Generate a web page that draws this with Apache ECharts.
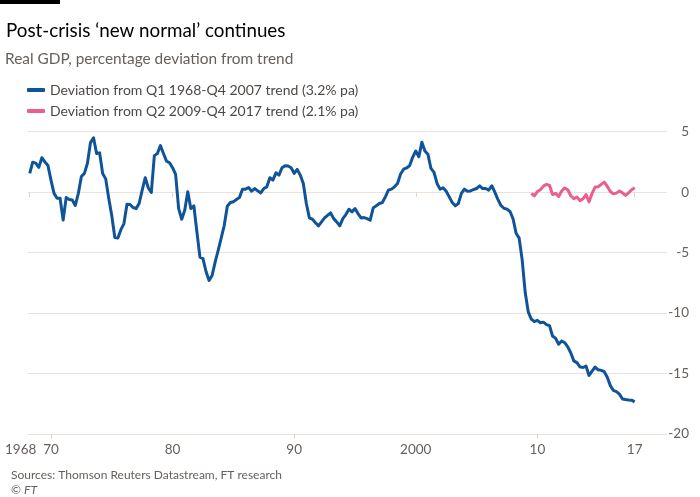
<!DOCTYPE html>
<html>
<head>
<meta charset="utf-8">
<script src="https://cdn.jsdelivr.net/npm/echarts@6/dist/echarts.min.js"></script>
<style>
html,body{margin:0;padding:0;background:#fff;}
#chart{width:700px;height:497px;}
</style>
</head>
<body>
<div id="chart"></div>
<script>
// First quarter of each series (year, quarter)
const blueStart = [1968, 1];
const pinkStart = [2009, 2];

// Deviation from Q1 1968-Q4 2007 trend (3.2% pa), quarterly from 1968 Q1
const blueValues = [
  1.55, 2.48, 2.4, 2.05,
  2.85, 2.5, 2.2, 1.0,
  -0.1, -0.5, -0.5, -2.3,
  -0.45, -0.6, -0.65, -1.1,
  -0.1, 1.3, 1.55, 2.4,
  4.1, 4.5, 3.2, 3.25,
  1.55, 1.1, -0.5, -1.95,
  -3.75, -3.8, -3.1, -2.6,
  -1.0, -1.02, -1.27, -1.36,
  -0.94, 0.17, 1.19, 0.36,
  -0.03, 3.02, 3.2, 3.85,
  3.2, 2.57, 2.43, 2.02,
  1.47, -1.36, -2.24, -1.49,
  0.03, -1.36, -1.13, -3.29,
  -5.37, -5.5, -6.56, -7.3,
  -6.89, -5.78, -4.81, -3.79,
  -2.74, -1.16, -0.86, -0.8,
  -0.61, -0.45, 0.25, 0.25,
  0.39, 0.08, 0.3, 0.11,
  -0.06, 0.3, 0.44, 1.19,
  1.0, 1.6, 1.41, 2.02,
  2.19, 2.16, 2.02, 1.55,
  1.88, 1.41, 0.72, -0.94,
  -2.13, -2.24, -2.52, -2.79,
  -2.46, -2.13, -1.91, -1.72,
  -2.19, -2.46, -2.79, -2.19,
  -1.85, -1.41, -1.63, -1.36,
  -1.77, -2.13, -2.1, -2.19,
  -2.32, -1.3, -1.13, -0.94,
  -0.86, -0.39, 0.17, 0.25,
  0.44, 0.72, 1.5, 1.9,
  2.0, 2.2, 2.9, 3.4,
  2.93, 4.12, 3.4, 3.13,
  1.96, 1.63, 0.72, 0.25,
  0.36, 0.08, -0.39, -0.86,
  -1.13, -0.94, -0.1, 0.25,
  0.08, 0.1, 0.22, 0.3,
  0.53, 0.3, 0.3, 0.17,
  0.53, 0.0, -0.6, -1.1,
  -1.33, -1.4, -1.6, -2.2,
  -3.4, -3.8, -5.6, -8.3,
  -9.9, -10.5, -10.7, -10.6,
  -10.8, -10.75, -10.95, -11.04,
  -11.9, -12.09, -12.58, -12.31,
  -12.45, -12.8, -13.3, -13.95,
  -14.1, -14.45, -14.5, -14.38,
  -15.16, -14.8, -14.46, -14.69,
  -14.74, -14.85, -15.3, -16.0,
  -16.4, -16.5, -16.7, -17.1,
  -17.15, -17.18, -17.2, -17.34
];

// Deviation from Q2 2009-Q4 2017 trend (2.1% pa), quarterly from 2009 Q2
const pinkValues = [
  -0.1, -0.3, 0.05,
  0.2, 0.5, 0.65, 0.55,
  -0.2, -0.1, -0.36, 0.1,
  0.35, 0.2, -0.3, -0.55,
  -0.4, -0.7, -0.55, -0.2,
  -0.8, -0.1, 0.42, 0.45,
  0.64, 0.83, 0.47, 0.05,
  -0.14, -0.08, 0.09, -0.05,
  -0.27, -0.05, 0.2, 0.36
];

// x-axis tick positions (end of quarter) and labels
const xTickValues = [1968.25, 1970, 1980, 1990, 2000, 2010, 2018];
const xTickLabels = ['1968', '70', '80', '90', '2000', '10', '17'];
const yTicks = [5, 0, -5, -10, -15, -20];

const legendNames = [
  'Deviation from Q1 1968-Q4 2007 trend (3.2% pa)',
  'Deviation from Q2 2009-Q4 2017 trend (2.1% pa)'
];

function toPoints(start, values) {
  // each quarter plotted at its end: year + quarter/4
  return values.map(function (v, i) {
    const q = start[1] - 1 + i;
    return [start[0] + (q + 1) / 4, v];
  });
}

const chart = echarts.init(document.getElementById('chart'), null, {renderer: 'canvas'});
const FONT = 'Lato, "Noto Sans", sans-serif';

// split ticks over two identical axes so the close "1968" and "70" labels both show
const ticksA = xTickValues.filter(function (v, k) { return k % 2 === 0; });
const ticksB = xTickValues.filter(function (v, k) { return k % 2 === 1; });

function makeXAxis(vals) {
  return {
    type: 'value', min: 1968.11, max: 2020.66, position: 'bottom', offset: 0,
    splitLine: {show: false},
    axisLine: {show: false},
    axisTick: {show: true, length: 5, customValues: vals, lineStyle: {color: '#e2d6cb', width: 1}},
    axisLabel: {
      customValues: vals, margin: 9, hideOverlap: false,
      showMinLabel: true, showMaxLabel: true,
      fontFamily: FONT, fontSize: 13.5, color: '#66605c',
      rich: {first: {fontFamily: FONT, fontSize: 13.5, color: '#66605c', padding: [0, 18, 0, 0]}},
      formatter: function (v) {
        const k = xTickValues.indexOf(v);
        if (k === 0) return '{first|' + xTickLabels[k] + '}';
        return k >= 0 ? xTickLabels[k] : '';
      }
    }
  };
}

const option = {
  backgroundColor: '#ffffff',
  animation: false,
  textStyle: {fontFamily: FONT},
  title: [
    {text: 'Post-crisis \u2018new normal\u2019 continues', left: 1, top: 16,
     textStyle: {fontFamily: FONT, fontSize: 18.8, fontWeight: 'normal', color: '#000000'}},
    {text: 'Real GDP, percentage deviation from trend', left: 0, top: 47,
     textStyle: {fontFamily: FONT, fontSize: 15.4, fontWeight: 'normal', color: '#66605c'}},
    {text: 'Sources: Thomson Reuters Datastream, FT research', left: 6, top: 464,
     textStyle: {fontFamily: FONT, fontSize: 12, fontWeight: 'normal', color: '#66605c'}},
    {text: '\u00a9 {i|FT}', left: 6, top: 479,
     textStyle: {fontFamily: FONT, fontSize: 12, fontWeight: 'normal', color: '#66605c',
       rich: {i: {fontStyle: 'italic', fontSize: 12, color: '#66605c', fontFamily: FONT}}}}
  ],
  graphic: [
    {type: 'rect', left: 0, top: 0, shape: {width: 60, height: 4}, style: {fill: '#000000'}}
  ],
  legend: {
    orient: 'vertical', left: 22, top: 78, itemGap: 7,
    itemWidth: 18, itemHeight: 4, icon: 'roundRect',
    textStyle: {fontFamily: FONT, fontSize: 14, color: '#4d4845'},
    data: legendNames
  },
  grid: {left: 28, right: 33, top: 131.7, bottom: 63, containLabel: false},
  xAxis: [makeXAxis(ticksA), makeXAxis(ticksB)],
  yAxis: {
    type: 'value', position: 'right', min: -20, max: 5, interval: 5,
    axisLine: {show: false}, axisTick: {show: false},
    splitLine: {lineStyle: {color: '#ebe3da', width: 1}},
    axisLabel: {align: 'right', margin: 22, fontFamily: FONT, fontSize: 13.5, color: '#66605c'}
  },
  series: [
    {name: legendNames[0], type: 'line', xAxisIndex: 0, data: toPoints(blueStart, blueValues),
     showSymbol: false, symbol: 'none', color: '#0f5499',
     lineStyle: {color: '#0f5499', width: 3, join: 'round'}},
    {name: legendNames[1], type: 'line', xAxisIndex: 0, data: toPoints(pinkStart, pinkValues),
     showSymbol: false, symbol: 'none', color: '#eb5e8d',
     lineStyle: {color: '#eb5e8d', width: 3, join: 'round'}}
  ]
};
chart.setOption(option);
</script>
</body>
</html>
